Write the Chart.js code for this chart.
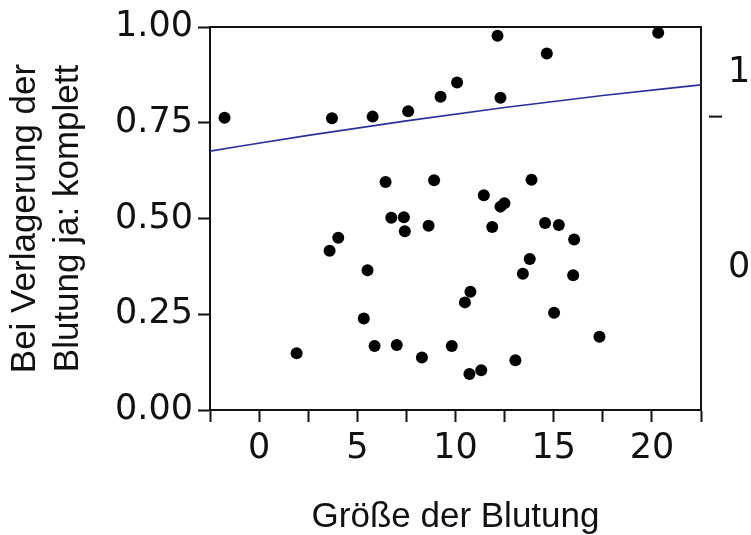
<!DOCTYPE html>
<html>
<head>
<meta charset="utf-8">
<script src="https://cdn.jsdelivr.net/npm/chart.js@4"></script>
<style>
  html, body { margin: 0; padding: 0; background: #fff; }
</style>
</head>
<body>
<canvas id="myChart" width="751" height="535"></canvas>
<script>
// Größe der Blutung (x) und Bei Verlagerung der Blutung (y, gejittert)
const groesse = [-1.76, 1.91, 3.59, 3.71, 4.03, 5.33, 5.52, 5.78, 5.88, 6.44, 6.73, 7.01, 7.37, 7.42, 7.59,
    8.29, 8.63, 8.91, 9.24, 9.81, 10.08, 10.48, 10.71, 10.76, 11.31, 11.44, 11.87, 12.14, 12.29, 12.29,
    12.49, 13.05, 13.43, 13.78, 13.87, 14.56, 14.65, 15.02, 15.26, 15.99, 16.04, 17.33, 20.32];
const verlagerung = [0.763, 0.148, 0.416, 0.762, 0.450, 0.239, 0.365, 0.766, 0.167, 0.595, 0.502, 0.170, 0.503, 0.467, 0.780,
    0.137, 0.481, 0.600, 0.818, 0.167, 0.855, 0.281, 0.094, 0.309, 0.104, 0.561, 0.478, 0.977, 0.815, 0.531,
    0.540, 0.130, 0.356, 0.394, 0.601, 0.488, 0.931, 0.254, 0.483, 0.352, 0.445, 0.191, 0.985];

// logistische Kurve
const kurveX = [-2.5, 2.5, 7.5, 12.5, 17.5, 22.5];
const kurveY = [0.676, 0.717, 0.755, 0.790, 0.821, 0.849];

const xTicks = [-2.5, 0, 2.5, 5, 7.5, 10, 12.5, 15, 17.5, 20, 22.5];
const yTicks = [0, 0.25, 0.5, 0.75, 1];
const rechtsWerte = [0.371, 0.88];
const rechtsLabels = ['0', '1'];
const trennlinie = 0.766;

const rahmenPlugin = {
    id: 'rahmen',
    afterDraw(chart) {
        const ctx = chart.ctx;
        const area = chart.chartArea;
        const y = chart.scales.y2.getPixelForValue(trennlinie);
        ctx.save();
        ctx.strokeStyle = '#111';
        ctx.lineWidth = 2;
        ctx.beginPath();
        ctx.moveTo(area.left - 1, area.top);
        ctx.lineTo(area.right + 1, area.top);
        ctx.stroke();
        ctx.beginPath();
        ctx.moveTo(area.right + 8, y);
        ctx.lineTo(area.right + 21, y);
        ctx.stroke();
        ctx.restore();
    }
};

const tickFont = { family: 'DejaVu Sans', size: 35 };

function keinRand(s) {
    s.paddingTop = 0;
    s.paddingBottom = 0;
    s.paddingLeft = 0;
    s.paddingRight = 0;
}

new Chart('myChart', {
    data: {
        datasets: [{
            type: 'scatter',
            data: groesse.map((x, i) => ({ x: x, y: verlagerung[i] })),
            backgroundColor: '#000',
            borderWidth: 0,
            pointRadius: 6
        }, {
            type: 'line',
            data: kurveX.map((x, i) => ({ x: x, y: kurveY[i] })),
            borderColor: '#2e2e98',
            borderWidth: 1.6,
            pointRadius: 0,
            cubicInterpolationMode: 'monotone',
            fill: false
        }]
    },
    options: {
        responsive: false,
        animation: false,
        devicePixelRatio: 1,
        layout: { autoPadding: false, padding: { top: 27, left: 0, right: 0, bottom: 0 } },
        plugins: { legend: { display: false }, tooltip: { enabled: false } },
        scales: {
            x: {
                type: 'linear',
                min: -2.5,
                max: 22.5,
                afterBuildTicks: s => { s.ticks = xTicks.map(v => ({ value: v })); },
                afterFit: s => { s.height = 125; keinRand(s); },
                ticks: {
                    autoSkip: false,
                    maxRotation: 0,
                    padding: 6,
                    color: '#111',
                    font: tickFont,
                    callback: v => (v % 5 === 0 ? String(v) : '')
                },
                grid: { drawOnChartArea: false, tickLength: 12, tickColor: '#111', tickWidth: 2 },
                border: { color: '#111', width: 2 },
                title: {
                    display: true,
                    text: 'Größe der Blutung',
                    color: '#111',
                    font: { family: 'Liberation Sans', size: 35, lineHeight: 1.0 },
                    padding: 0
                }
            },
            y: {
                position: 'left',
                min: 0,
                max: 1,
                afterBuildTicks: s => { s.ticks = yTicks.map(v => ({ value: v })); },
                afterFit: s => { s.width = 210; keinRand(s); },
                ticks: { padding: 5, color: '#111', font: tickFont, callback: v => v.toFixed(2) },
                grid: { drawOnChartArea: false, tickLength: 12, tickColor: '#111', tickWidth: 2 },
                border: { color: '#111', width: 2 },
                title: {
                    display: true,
                    text: ['Bei Verlagerung der', 'Blutung ja: komplett'],
                    color: '#111',
                    font: { family: 'Liberation Sans', size: 35, lineHeight: 1.22 },
                    padding: { top: 4, bottom: 0 }
                }
            },
            y2: {
                position: 'right',
                min: 0,
                max: 1,
                afterBuildTicks: s => { s.ticks = rechtsWerte.map(v => ({ value: v })); },
                afterFit: s => { s.width = 50; keinRand(s); },
                ticks: {
                    padding: 27,
                    color: '#111',
                    font: tickFont,
                    callback: (v, i) => rechtsLabels[i]
                },
                grid: { display: false, drawTicks: false },
                border: { color: '#111', width: 2 }
            }
        }
    },
    plugins: [rahmenPlugin]
});
</script>
</body>
</html>
